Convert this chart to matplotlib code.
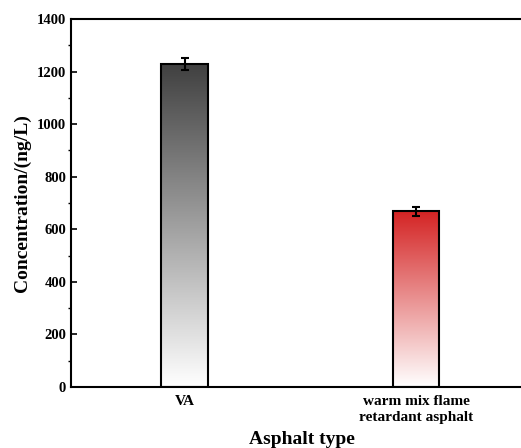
import numpy as np
import matplotlib
matplotlib.use("Agg")
import matplotlib.pyplot as plt
from matplotlib.colors import LinearSegmentedColormap
from matplotlib.ticker import MultipleLocator

plt.rcParams['font.family'] = ['Liberation Serif', 'DejaVu Serif']
plt.rcParams['font.weight'] = 'bold'

categories = ["VA", "warm mix flame\nretardant asphalt"]
values = [1230, 668]
errors = [23, 16]
top_colors = ["#404040", "#d42424"]

fig = plt.figure(figsize=(5.21, 4.48), dpi=100)
ax = fig.add_axes([0.1363, 0.1362, 0.885, 0.8214])

x = np.arange(len(categories))
width = 0.2
bars = ax.bar(x, values, width=width, facecolor="none", edgecolor="black",
              linewidth=1.5, zorder=3)

# vertical gradient fill, white at the base, colour at the top
grad = np.linspace(0, 1, 256).reshape(-1, 1)
for bar, col in zip(bars, top_colors):
    cmap = LinearSegmentedColormap.from_list("g", ["#ffffff", col])
    x0 = bar.get_x()
    h = bar.get_height()
    im = ax.imshow(grad, cmap=cmap, origin="lower", aspect="auto",
                   extent=(x0, x0 + bar.get_width(), 0, h), zorder=2)
    im.set_clip_path(bar)

ax.errorbar(x, values, yerr=errors, fmt="none", ecolor="black",
            elinewidth=1.5, capsize=3, capthick=1.5, zorder=4)

ax.set_xlim(-0.49, 1.5)
ax.set_ylim(0, 1400)
ax.yaxis.set_major_locator(MultipleLocator(200))
ax.yaxis.set_minor_locator(MultipleLocator(100))
ax.set_xticks(x)
ax.set_xticklabels(categories, fontsize=11, fontweight="bold", linespacing=1.25)
ax.tick_params(axis="both", direction="in", width=1.2)
ax.tick_params(axis="y", which="major", length=4, labelsize=10.5)
ax.tick_params(axis="y", which="minor", length=2, width=1)
ax.tick_params(axis="x", length=3, pad=6)
for lab in ax.get_yticklabels():
    lab.set_fontweight("bold")
for s in ax.spines.values():
    s.set_linewidth(1.5)
ax.spines["right"].set_visible(False)

ax.set_ylabel("Concentration/(ng/L)", fontsize=14, fontweight="bold", labelpad=4)
ax.set_xlabel("Asphalt type", fontsize=14, fontweight="bold", labelpad=5)

fig.savefig("out.png", dpi=100)
